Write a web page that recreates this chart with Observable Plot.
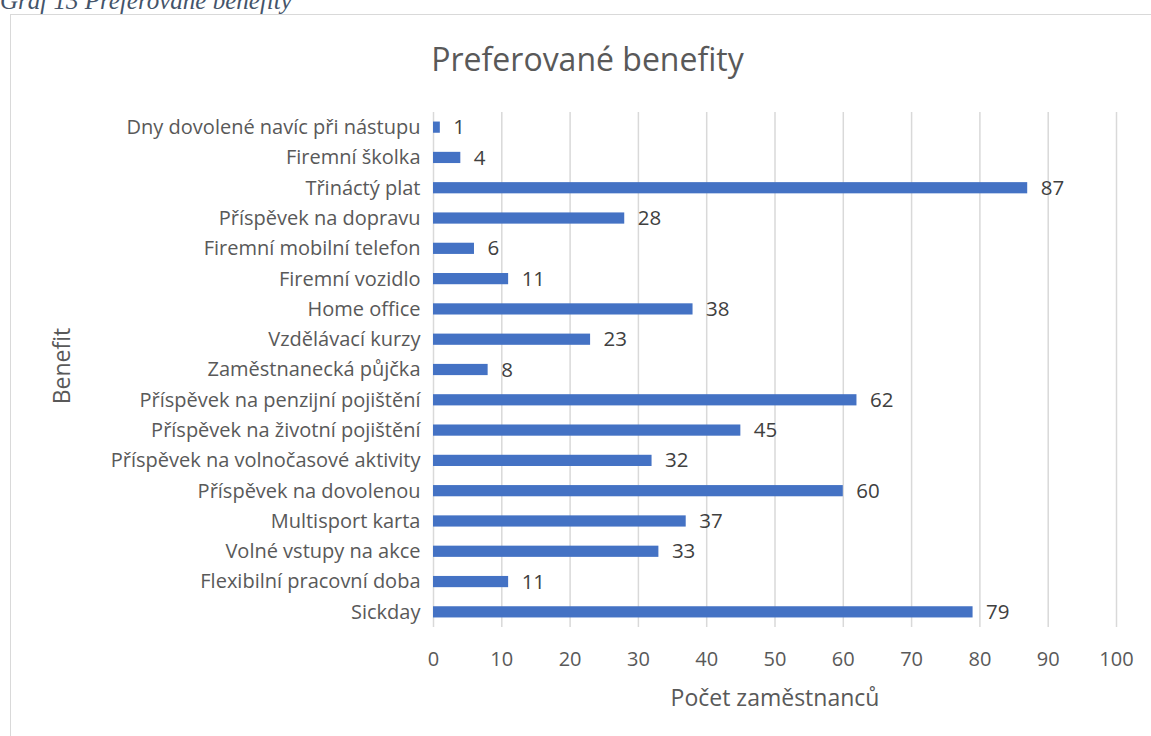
<!DOCTYPE html>
<html>
<head>
<meta charset="utf-8">
<script src="https://cdn.jsdelivr.net/npm/d3@7"></script>
<script src="https://cdn.jsdelivr.net/npm/@observablehq/plot@0.6"></script>
<style>
  html, body { margin: 0; padding: 0; background: #fff; overflow: hidden; }
  #wrap { position: relative; width: 1151px; height: 736px; overflow: hidden; }
  #caption { position: absolute; left: 0; top: -13px; font-family: "Liberation Serif", "DejaVu Serif", serif; font-style: italic; font-size: 25px; line-height: 28px; color: #44546a; white-space: nowrap; }
  #frame { position: absolute; left: 10px; top: 14px; width: 1200px; height: 800px; border: 1.5px solid #d9d9d9; box-sizing: border-box; }
  #title { position: absolute; left: 0; width: 1175px; top: 37px; line-height: 44px; text-align: center; font-family: "Open Sans", sans-serif; font-size: 32px; color: #595959; }
  #chart { position: absolute; left: 0; top: 0; }
</style>
</head>
<body>
<div id="wrap">
  <div id="frame"></div>
  <div id="caption">Graf 13 Preferované benefity</div>
  <div id="title">Preferované benefity</div>
  <div id="chart"></div>
</div>
<script>
const categories = [
  "Dny dovolené navíc při nástupu",
  "Firemní školka",
  "Třináctý plat",
  "Příspěvek na dopravu",
  "Firemní mobilní telefon",
  "Firemní vozidlo",
  "Home office",
  "Vzdělávací kurzy",
  "Zaměstnanecká půjčka",
  "Příspěvek na penzijní pojištění",
  "Příspěvek na životní pojištění",
  "Příspěvek na volnočasové aktivity",
  "Příspěvek na dovolenou",
  "Multisport karta",
  "Volné vstupy na akce",
  "Flexibilní pracovní doba",
  "Sickday"
];
const values = [1, 4, 87, 28, 6, 11, 38, 23, 8, 62, 45, 32, 60, 37, 33, 11, 79];
const xTicks = [0, 10, 20, 30, 40, 50, 60, 70, 80, 90, 100];

const data = categories.map((c, i) => ({benefit: c, count: values[i]}));

const chart = Plot.plot({
  width: 1151,
  height: 736,
  marginLeft: 433,
  marginRight: 35,
  marginTop: 112,
  marginBottom: 109,
  style: {fontFamily: "'Open Sans', sans-serif", fontSize: "16px", color: "#595959", background: "transparent"},
  x: {domain: [0, 100], ticks: xTicks, label: null},
  y: {domain: categories, paddingInner: 0.63, paddingOuter: 0.315, round: false, label: null},
  marks: [
    Plot.gridX(xTicks, {stroke: "#d9d9d9", strokeOpacity: 1, strokeWidth: 1.5}),
    Plot.barX(data, {x: "count", y: "benefit", fill: "#4472c4"}),
    Plot.text(data, {x: "count", y: "benefit", text: d => String(d.count), dx: 13, textAnchor: "start", fill: "#404040", fontSize: 20.5}),
    Plot.axisX(xTicks, {tickSize: 0, tickPadding: 24, fill: "#595959", fontSize: 20, label: null}),
    Plot.axisY(categories, {tickSize: 0, tickPadding: 13, fill: "#595959", fontSize: 20, label: null}),
    Plot.text(["Počet zaměstnanců"], {frameAnchor: "bottom", lineAnchor: "middle", dy: 71, fill: "#595959", fontSize: 23}),
    Plot.text(["Benefit"], {frameAnchor: "left", textAnchor: "middle", lineAnchor: "middle", dx: -371, dy: -4, rotate: -90, fill: "#595959", fontSize: 23})
  ]
});
document.getElementById("chart").appendChild(chart);
</script>
</body>
</html>
